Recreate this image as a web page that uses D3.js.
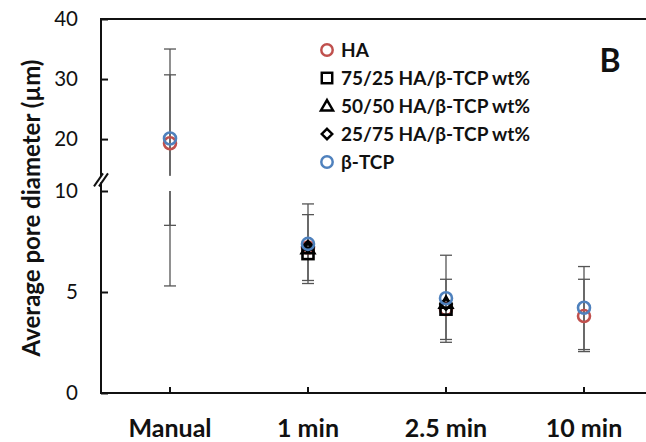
<!DOCTYPE html>
<html>
<head>
<meta charset="utf-8">
<script src="https://cdn.jsdelivr.net/npm/d3@7"></script>
<style>
  html, body { margin: 0; padding: 0; background: #fff; }
  svg { display: block; }
  text { font-family: Lato, "Open Sans", sans-serif; fill: #111; }
</style>
</head>
<body>
<svg id="chart" width="646" height="442"></svg>
<script>
// ---- data ----
const categories = ["Manual", "1 min", "2.5 min", "10 min"];
const seriesNames = ["HA", "75/25 HA/β-TCP wt%", "50/50 HA/β-TCP wt%", "25/75 HA/β-TCP wt%", "β-TCP"];
const haMean   = [19.3, 7.2, 4.15, 3.81];
const haHigh   = [30.7, 8.83, 5.63, 5.63];
const haLow    = [8.3, 5.57, 2.65, 2.05];
const c7525Mean = [null, 6.9, 4.15, null];
const c5050Mean = [null, 7.15, 4.45, null];
const c2575Mean = [null, 7.25, 4.4, null];
const tcpMean  = [20.1, 7.38, 4.69, 4.22];
const tcpHigh  = [35.0, 9.36, 6.82, 6.26];
const tcpLow   = [5.3, 5.42, 2.51, 2.15];
const yTicks = [0, 5, 10, 20, 30, 40];
const breakLow = 10, breakHigh = 13.9;

// ---- setup ----
const svg = d3.select("#chart");
const x = d3.scaleBand().domain(categories).range([101, 653]).padding(0);
const cx = c => x(c) + x.bandwidth() / 2;
const y = d3.scaleLinear().domain([0, breakLow, breakHigh, 40]).range([393, 191, 175.7, 19]);

const colors = { "HA": "#C0504D", "β-TCP": "#4F81BD" };
const series = [
  { name: seriesNames[0], mean: haMean, high: haHigh, low: haLow, shape: "circle", color: colors["HA"] },
  { name: seriesNames[1], mean: c7525Mean, shape: "square", color: "#000" },
  { name: seriesNames[2], mean: c5050Mean, shape: "triangle", color: "#000" },
  { name: seriesNames[3], mean: c2575Mean, shape: "diamond", color: "#000" },
  { name: seriesNames[4], mean: tcpMean, high: tcpHigh, low: tcpLow, shape: "circle", color: colors["β-TCP"] }
];

// ---- axes ----
const yAxis = d3.axisLeft(y).tickValues(yTicks).tickSizeInner(-7).tickSizeOuter(0).tickPadding(23);
const gy = svg.append("g").attr("transform", "translate(101,0)").call(yAxis);
gy.select(".domain").remove();
gy.selectAll(".tick line").attr("stroke", "#111").attr("stroke-width", 2);
gy.selectAll(".tick text").style("font-size", "20.5px").style("font-family", "Lato, sans-serif").attr("fill", "#222");

const xAxis = d3.axisBottom(x).tickSizeInner(-6).tickSizeOuter(0).tickPadding(0);
const gx = svg.append("g").attr("transform", "translate(0,393)").call(xAxis);
gx.select(".domain").remove();
gx.selectAll(".tick line").attr("stroke", "#111").attr("stroke-width", 2);
gx.selectAll(".tick text").attr("y", 35).attr("dy", "0.35em")
  .style("font-size", "25px").style("font-weight", "bold").style("font-family", "Lato, sans-serif").attr("fill", "#111");

// axis lines
const axisG = svg.append("g").attr("stroke", "#111").attr("stroke-width", 2).attr("fill", "none");
axisG.append("line").attr("x1", 101).attr("x2", 101).attr("y1", y(40)).attr("y2", 393);
axisG.append("line").attr("x1", 100).attr("x2", 646).attr("y1", y(40)).attr("y2", y(40));
axisG.append("line").attr("x1", 100).attr("x2", 646).attr("y1", 393).attr("y2", 393);
// break mark
const bm = (y(breakLow) + y(breakHigh)) / 2 - 4;
svg.append("rect").attr("x", 97).attr("y", bm - 3).attr("width", 8).attr("height", 6).attr("fill", "#fff");
svg.append("line").attr("x1", 94).attr("y1", bm + 7).attr("x2", 103).attr("y2", bm - 6).attr("stroke", "#111").attr("stroke-width", 2);
svg.append("line").attr("x1", 99).attr("y1", bm + 7).attr("x2", 108).attr("y2", bm - 6).attr("stroke", "#111").attr("stroke-width", 2);

// y title
svg.append("text").attr("transform", `translate(40,208) rotate(-90)`)
  .attr("text-anchor", "middle").style("font-size", "24px").style("font-weight", "bold")
  .text("Average pore diameter (µm)");

// ---- error bars ----
const eg = svg.append("g").attr("stroke", "#555").attr("stroke-width", 1.3);
series.forEach(s => {
  if (!s.high) return;
  categories.forEach((c, i) => {
    const hi = s.high[i], lo = s.low[i];
    if (hi == null) return;
    const xc = cx(c);
    if (hi > breakHigh && lo < breakLow) {
      eg.append("line").attr("x1", xc).attr("x2", xc).attr("y1", y(hi)).attr("y2", y(breakHigh));
      eg.append("line").attr("x1", xc).attr("x2", xc).attr("y1", y(breakLow)).attr("y2", y(lo));
    } else {
      eg.append("line").attr("x1", xc).attr("x2", xc).attr("y1", y(hi)).attr("y2", y(lo));
    }
    [hi, lo].forEach(v => eg.append("line").attr("x1", xc - 6).attr("x2", xc + 6).attr("y1", y(v)).attr("y2", y(v)));
  });
});

// ---- markers ----
function drawMarker(g, shape, color, px, py, scale) {
  const k = scale || 1;
  if (shape === "circle") {
    g.append("circle").attr("cx", px).attr("cy", py).attr("r", 6 * k)
      .attr("fill", "none").attr("stroke", color).attr("stroke-width", 2.6 * k);
  } else if (shape === "square") {
    g.append("rect").attr("x", px - 5.5 * k).attr("y", py - 5.5 * k).attr("width", 11 * k).attr("height", 11 * k)
      .attr("fill", "none").attr("stroke", color).attr("stroke-width", 2.6 * k);
  } else if (shape === "diamond") {
    const r = 5.5 * k;
    g.append("path").attr("d", `M${px},${py - r}L${px + r},${py}L${px},${py + r}L${px - r},${py}Z`)
      .attr("fill", "none").attr("stroke", color).attr("stroke-width", 2.6 * k);
  } else {
    g.append("path").attr("d", d3.symbol().type(d3.symbolTriangle).size(70 * k * k)())
      .attr("transform", `translate(${px},${py + 1})`)
      .attr("fill", "none").attr("stroke", color).attr("stroke-width", 2.6 * k);
  }
}
const mg = svg.append("g");
series.forEach(s => {
  categories.forEach((c, i) => {
    const v = s.mean[i];
    if (v == null) return;
    drawMarker(mg, s.shape, s.color, cx(c), y(v));
  });
});

// ---- legend ----
const lg = svg.append("g");
series.forEach((s, i) => {
  const ly = 50 + 28 * i;
  drawMarker(lg, s.shape, s.color, 327, ly, 0.95);
  lg.append("text").attr("x", 341).attr("y", ly).attr("dy", "0.35em")
    .style("font-size", "19px").style("font-weight", "bold").text(s.name);
});

// panel label
svg.append("text").attr("x", 610).attr("y", 61).attr("dy", "0.35em").attr("text-anchor", "middle")
  .style("font-size", "32px").style("font-weight", "bold").text("B");
</script>
</body>
</html>
